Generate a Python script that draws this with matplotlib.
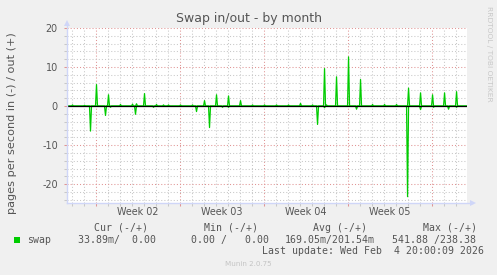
import numpy as np
import matplotlib
matplotlib.use("Agg")
import matplotlib.pyplot as plt
from matplotlib.patches import Rectangle
from matplotlib.transforms import blended_transform_factory
from matplotlib.ticker import MultipleLocator

# ---- data (days relative to Monday of Week 02) ----
out_days = [-1.95, -0.97, 0.03, 1.05, 2.08, 3.05, 3.42, 4.05, 5.05, 5.63, 6.05,
            7.03, 8.05, 9.05, 10.03, 11.05, 12.03, 13.08, 14.05, 15.08, 16.05,
            17.05, 18.05, 19.05, 19.25, 20.05, 21.05, 22.05, 23.05, 24.05, 25.05,
            26.05, 27.05, 28.05, 29.05, 30.05]
out_vals = [0.3, 0.2, 5.5, 2.9, 0.4, 0.5, 0.6, 3.2, 0.4, 0.3, 0.3,
            0.3, 0.3, 1.4, 2.9, 2.6, 1.4, 0.3, 0.3, 0.3, 0.3,
            0.7, 0.3, 9.6, 0.3, 7.5, 12.6, 6.8, 0.4, 0.4, 0.4,
            4.6, 3.4, 2.9, 3.4, 3.7]
in_days = [-0.39, 0.78, 1.2, 3.36, 4.85, 8.42, 9.47, 10.55, 11.1, 18.47, 19.1,
           21.75, 25.97, 27.1, 28.15, 29.4, 30.1]
in_vals = [6.4, 2.4, 0.3, 2.1, 0.3, 1.4, 5.5, 0.3, 0.3, 4.7, 0.4,
           0.8, 23.2, 0.9, 0.3, 0.8, 0.3]

week_labels = ["Week 02", "Week 03", "Week 04", "Week 05"]
week_starts = [0, 7, 14, 21]
yticks = [-20, -10, 0, 10, 20]

x_start, x_end = -2.43, 30.94
step = 1 / 12.0  # 2-hour samples

GREEN = "#00CC00"
FONT_C = "#555555"
AXIS_C = "#CFD6F8"
MINOR_C = "#C8C8C8"
MAJOR_C = "#E09494"

W, H = 497, 275
fig = plt.figure(figsize=(W / 100, H / 100), dpi=100, facecolor="#F0F0F0")
left_px, right_px, top_px, bot_px = 66.5, 467.0, 28.0, 203.3
ax = fig.add_axes([left_px / W, 1 - bot_px / H, (right_px - left_px) / W, (bot_px - top_px) / H])
ax.set_facecolor("white")

t = np.arange(x_start, x_end + step, step)
out_series = np.zeros_like(t)
for d, v in zip(out_days, out_vals):
    out_series[np.argmin(np.abs(t - d))] = v
in_series = np.zeros_like(t)
for d, v in zip(in_days, in_vals):
    in_series[np.argmin(np.abs(t - d))] = v

ax.plot(t, -in_series, color=GREEN, lw=0.9, zorder=3)
ax.plot(t, out_series, color=GREEN, lw=0.9, zorder=3)
ax.axhline(0, color="black", lw=0.9, zorder=4)

ax.set_xlim(x_start, x_end)
ax.set_ylim(-24.9, 20)

ax.xaxis.set_major_locator(MultipleLocator(7))
ax.xaxis.set_minor_locator(MultipleLocator(1))
ax.yaxis.set_major_locator(MultipleLocator(10))
ax.yaxis.set_minor_locator(MultipleLocator(2))
ax.grid(which="major", color=MAJOR_C, lw=0.75, linestyle=(0, (1, 2)))
ax.grid(which="minor", color=MINOR_C, lw=0.75, linestyle=(0, (1, 2)))
ax.set_axisbelow(True)
ax.set_xticklabels([])
ax.set_yticks(yticks)
ax.set_yticklabels([str(v) for v in yticks])
ax.tick_params(axis="y", which="major", length=2, width=0.75, color=MAJOR_C,
               labelsize=6.9, labelcolor=FONT_C, pad=4.2)
ax.tick_params(axis="y", which="minor", length=2, width=0.75, color=MINOR_C)
ax.tick_params(axis="x", which="major", length=2.2, width=0.75, color=MAJOR_C)
ax.tick_params(axis="x", which="minor", length=2.2, width=0.75, color=MINOR_C)
for s in ax.spines.values():
    s.set_visible(False)

# axes with arrows
ax.plot([0, 1.012], [0, 0], transform=ax.transAxes, color=AXIS_C, lw=1.0, clip_on=False, zorder=5)
ax.plot([1.015], [0], transform=ax.transAxes, marker=">", ms=5, color=AXIS_C, clip_on=False, zorder=5, mew=0)
ax.plot([0, 0], [0, 1.02], transform=ax.transAxes, color=AXIS_C, lw=1.0, clip_on=False, zorder=5)
ax.plot([0], [1.03], transform=ax.transAxes, marker="^", ms=5, color=AXIS_C, clip_on=False, zorder=5, mew=0)

trans = blended_transform_factory(ax.transData, ax.transAxes)
for ws, lab in zip(week_starts, week_labels):
    ax.text(ws + 3.5, -(212.3 - bot_px) / (bot_px - top_px), lab, transform=trans,
            ha="center", va="center", fontsize=6.9, color=FONT_C)

def ftext(x, y, s, **kw):
    fig.text(x / W, 1 - y / H, s, **kw)

ftext(248.5, 18.5, "Swap in/out - by month", ha="center", va="center", fontsize=9, color=FONT_C)
ftext(11.7, 123.3, "pages per second in (-) / out (+)", ha="center", va="center",
      rotation=90, fontsize=8.1, color=FONT_C)
ftext(488.5, 53.5, "RRDTOOL / TOBI OETIKER", ha="center", va="center", rotation=270,
      fontsize=5.4, color="#C8C8C8")

mono = dict(family="DejaVu Sans Mono", fontsize=7.1, color=FONT_C, va="center", ha="left")
ftext(94.0, 227.7, "Cur (-/+)", **mono)
ftext(204.0, 227.7, "Min (-/+)", **mono)
ftext(313.3, 227.7, "Avg (-/+)", **mono)
ftext(422.7, 227.7, "Max (-/+)", **mono)
ftext(26.7, 240.0, "swap", **mono)
ftext(77.7, 240.0, "33.89m/  0.00", **mono)
ftext(190.7, 240.0, "0.00 /   0.00", **mono)
ftext(285.0, 240.0, "169.05m/201.54m", **mono)
ftext(391.7, 240.0, "541.88 /238.38", **mono)
ftext(261.7, 251.0, "Last update: Wed Feb  4 20:00:09 2026", **mono)
fig.patches.append(Rectangle((14 / W, 1 - 243.3 / H), 6 / W, 6 / H, transform=fig.transFigure,
                             facecolor=GREEN, edgecolor="none"))
ftext(248.0, 264.0, "Munin 2.0.75", ha="center", va="center", fontsize=5.1, color="#C4C4C4")

fig.savefig("out.png", dpi=100, facecolor=fig.get_facecolor())
